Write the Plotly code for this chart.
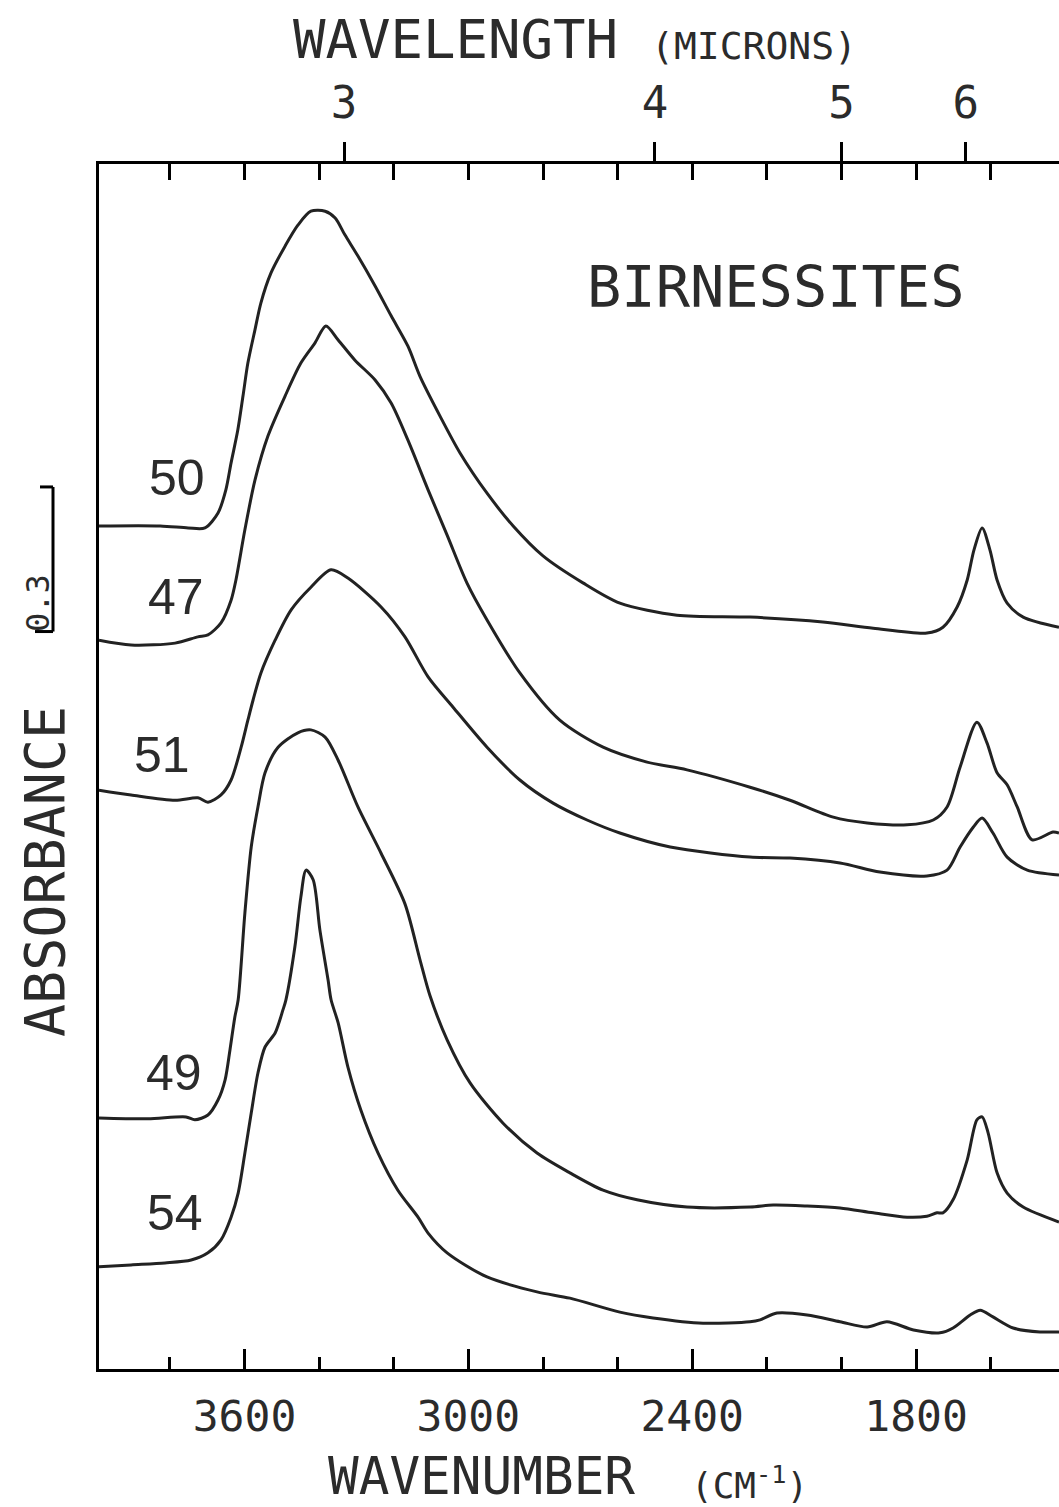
import plotly.graph_objects as go

# ---------------- data (wavenumber cm-1, absorbance with plot offsets) ----------------
series_names = ["50", "47", "51", "49", "54"]

wn_50 = [3990, 3826, 3751, 3706, 3671, 3650, 3636, 3618, 3604, 3591, 3572, 3556, 3529, 3491, 3457,
         3422, 3384, 3357, 3331, 3296, 3250, 3207, 3162, 3130, 3076, 3022, 2950, 2880, 2800, 2693,
         2594, 2441, 2245, 2050, 1915, 1771, 1728, 1690, 1663, 1645, 1623, 1602, 1583, 1556, 1513, 1417]
ab_50 = [1.749, 1.749, 1.745, 1.745, 1.776, 1.824, 1.880, 1.948, 2.019, 2.087, 2.156, 2.212, 2.274, 2.330, 2.373,
         2.402, 2.402, 2.388, 2.353, 2.309, 2.247, 2.185, 2.122, 2.060, 1.977, 1.900, 1.817, 1.749, 1.687, 1.631,
         1.589, 1.564, 1.560, 1.550, 1.537, 1.527, 1.539, 1.581, 1.637, 1.699, 1.745, 1.699, 1.637, 1.589, 1.560, 1.539]

wn_47 = [3990, 3904, 3786, 3725, 3698, 3663, 3636, 3623, 3599, 3572, 3537, 3491, 3449, 3411, 3382,
         3349, 3304, 3250, 3207, 3162, 3108, 3057, 3004, 2950, 2862, 2755, 2639, 2521, 2414, 2245,
         2138, 2022, 1931, 1824, 1754, 1717, 1682, 1637, 1610, 1583, 1556, 1529, 1489, 1433, 1417]
ab_47 = [1.512, 1.502, 1.506, 1.519, 1.523, 1.548, 1.595, 1.637, 1.741, 1.844, 1.936, 2.019, 2.087, 2.129, 2.164,
         2.135, 2.093, 2.052, 2.004, 1.927, 1.824, 1.730, 1.631, 1.554, 1.444, 1.346, 1.290, 1.259, 1.243, 1.207,
         1.180, 1.145, 1.133, 1.129, 1.139, 1.166, 1.249, 1.342, 1.299, 1.237, 1.212, 1.166, 1.098, 1.114, 1.112]

wn_51 = [3990, 3904, 3786, 3725, 3698, 3663, 3636, 3609, 3591, 3577, 3556, 3518, 3475, 3422, 3368,
         3323, 3234, 3170, 3108, 3041, 2950, 2862, 2773, 2682, 2594, 2459, 2245, 2138, 2004, 1897,
         1771, 1717, 1682, 1647, 1623, 1594, 1556, 1502, 1417]
ab_51 = [1.201, 1.191, 1.180, 1.185, 1.176, 1.191, 1.222, 1.290, 1.346, 1.388, 1.444, 1.512, 1.575, 1.622, 1.658,
         1.641, 1.581, 1.519, 1.436, 1.373, 1.290, 1.222, 1.174, 1.139, 1.112, 1.083, 1.062, 1.060, 1.050, 1.031,
         1.023, 1.035, 1.083, 1.124, 1.143, 1.112, 1.062, 1.035, 1.025]

wn_49 = [3990, 3859, 3757, 3733, 3698, 3671, 3652, 3639, 3626, 3617, 3599, 3582, 3564, 3545, 3510,
         3457, 3422, 3384, 3349, 3296, 3234, 3170, 3130, 3103, 3057, 2995, 2907, 2816, 2728, 2639,
         2548, 2414, 2245, 2183, 2092, 2004, 1915, 1824, 1771, 1744, 1728, 1701, 1663, 1637, 1623,
         1607, 1583, 1556, 1513, 1417]
ab_49 = [0.521, 0.519, 0.523, 0.517, 0.527, 0.558, 0.600, 0.662, 0.730, 0.766, 0.946, 1.083, 1.166, 1.237, 1.290,
         1.320, 1.326, 1.311, 1.263, 1.166, 1.070, 0.965, 0.850, 0.775, 0.683, 0.593, 0.510, 0.448, 0.407, 0.371,
         0.351, 0.336, 0.336, 0.340, 0.338, 0.334, 0.324, 0.315, 0.317, 0.324, 0.324, 0.351, 0.434, 0.517, 0.523,
         0.490, 0.407, 0.365, 0.336, 0.305]

wn_54 = [3990, 3904, 3813, 3743, 3698, 3663, 3636, 3617, 3599, 3582, 3564, 3545, 3518, 3497, 3489,
         3465, 3449, 3435, 3416, 3398, 3376, 3368, 3349, 3323, 3288, 3242, 3189, 3135, 3108, 3057,
         2950, 2816, 2728, 2594, 2505, 2371, 2245, 2218, 2173, 2092, 2004, 1931, 1878, 1807, 1736,
         1701, 1655, 1628, 1594, 1540, 1468, 1417]
ab_54 = [0.212, 0.216, 0.220, 0.226, 0.241, 0.268, 0.315, 0.365, 0.448, 0.531, 0.614, 0.668, 0.697, 0.745, 0.766,
         0.876, 0.979, 1.035, 1.015, 0.911, 0.807, 0.766, 0.718, 0.627, 0.537, 0.448, 0.371, 0.315, 0.282, 0.241,
         0.191, 0.160, 0.147, 0.118, 0.106, 0.095, 0.098, 0.102, 0.116, 0.112, 0.098, 0.087, 0.098, 0.081, 0.075,
         0.085, 0.112, 0.122, 0.108, 0.085, 0.077, 0.077]

# axis ticks
wn_major_ticks = [3600, 3000, 2400, 1800]
wn_minor_ticks = [3800, 3400, 3200, 2800, 2600, 2200, 2000, 1600]
top_minor_ticks = [3800, 3600, 3400, 3200, 3000, 2800, 2600, 2400, 2200, 2000, 1800, 1600]
wavelength_microns = [3, 4, 5, 6]
wavelength_labels = ["3", "4", "5", "6"]
scale_bar_abs = 0.3

# ---------------- layout geometry ----------------
W, H = 1059, 1507
L, R, T, B = 99, 0, 164, 138
X_RANGE = [3990, 1417]
Y_RANGE = [0, 2.5]

def pxx(px):
    return (px - L) / (W - L - R)

def pxy(py):
    return (H - B - py) / (H - T - B)

INK = "#222222"
MONO = "DejaVu Sans Mono"

fig = go.Figure()
all_series = [(series_names[0], wn_50, ab_50), (series_names[1], wn_47, ab_47),
              (series_names[2], wn_51, ab_51), (series_names[3], wn_49, ab_49),
              (series_names[4], wn_54, ab_54)]
for name, wn, ab in all_series:
    assert len(wn) == len(ab), name
    fig.add_trace(go.Scatter(x=wn, y=ab, mode="lines", name=name,
                             line=dict(color=INK, width=3, shape="spline", smoothing=0.8),
                             hoverinfo="skip", showlegend=False))

# invisible trace bound to top (wavelength) axis
fig.add_trace(go.Scatter(x=X_RANGE, y=[None, None], xaxis="x2", mode="lines",
                         showlegend=False, hoverinfo="skip"))

fig.update_layout(
    width=W, height=H,
    margin=dict(l=L, r=R, t=T, b=B, pad=0),
    paper_bgcolor="white", plot_bgcolor="white",
    showlegend=False,
    xaxis=dict(range=X_RANGE, showline=True, linewidth=3, linecolor="black",
               showgrid=False, zeroline=False,
               tickmode="array", tickvals=wn_major_ticks,
               ticks="inside", ticklen=20, tickwidth=3, tickcolor="black",
               tickfont=dict(family=MONO, size=43, color="#2b2b2b"),
               ticklabelstandoff=7,
               minor=dict(tickmode="array", tickvals=wn_minor_ticks, ticks="inside",
                          ticklen=12, tickwidth=3, tickcolor="black", showgrid=False)),
    xaxis2=dict(range=X_RANGE, overlaying="x", side="top", anchor="y",
                showline=True, linewidth=3, linecolor="black",
                showgrid=False, zeroline=False,
                tickmode="array", tickvals=[1e4 / m for m in wavelength_microns],
                ticktext=wavelength_labels,
                ticks="outside", ticklen=19, tickwidth=3, tickcolor="black",
                tickfont=dict(family=MONO, size=44, color="#2b2b2b"),
                ticklabelstandoff=6,
                minor=dict(tickmode="array", tickvals=top_minor_ticks, ticks="inside",
                           ticklen=16, tickwidth=3, tickcolor="black", showgrid=False)),
    yaxis=dict(range=Y_RANGE, showline=True, linewidth=3, linecolor="black",
               showgrid=False, zeroline=False, showticklabels=False, ticks=""),
)

ann = []
def add_text(text, px, py, size, family=MONO, angle=0, xanchor="left", yanchor="middle"):
    ann.append(dict(text=text, x=pxx(px), y=pxy(py), xref="paper", yref="paper",
                    showarrow=False, xanchor=xanchor, yanchor=yanchor, textangle=angle,
                    borderpad=0,
                    font=dict(family=family, size=size, color="#2b2b2b")))

add_text("WAVELENGTH", 292, 40, 54)
add_text("(MICRONS)", 650, 46, 38)
add_text("WAVENUMBER", 327, 1507, 51, yanchor="bottom")
add_text("(CM<sup>-1</sup>)", 690, 1507, 36, yanchor="bottom")
add_text("BIRNESSITES", 586, 287, 57)
add_text("ABSORBANCE", 45, 872, 55, angle=-90, xanchor="center")
add_text("0.3", 38, 603, 32, angle=-90, xanchor="center")

label_pos = {"50": (177, 478), "47": (176, 597), "51": (162, 755), "49": (174, 1073), "54": (175, 1213)}
for name in series_names:
    px, py = label_pos[name]
    add_text(name, px, py, 50, family="Liberation Sans", xanchor="center")

fig.update_layout(annotations=ann)

# 0.3 absorbance scale bar (bracket) drawn in absorbance units
bar_top = 1.83
bar_bot = bar_top - scale_bar_abs
shapes = [
    dict(type="line", xref="paper", yref="y", x0=pxx(53), x1=pxx(53), y0=bar_bot, y1=bar_top,
         line=dict(color="black", width=3)),
    dict(type="line", xref="paper", yref="y", x0=pxx(40), x1=pxx(53), y0=bar_top, y1=bar_top,
         line=dict(color="black", width=3)),
    dict(type="line", xref="paper", yref="y", x0=pxx(35), x1=pxx(53), y0=bar_bot, y1=bar_bot,
         line=dict(color="black", width=3)),
]
fig.update_layout(shapes=shapes)

fig.write_html("out.html", config={"displayModeBar": False},
               post_script="document.body.style.margin='0';")
